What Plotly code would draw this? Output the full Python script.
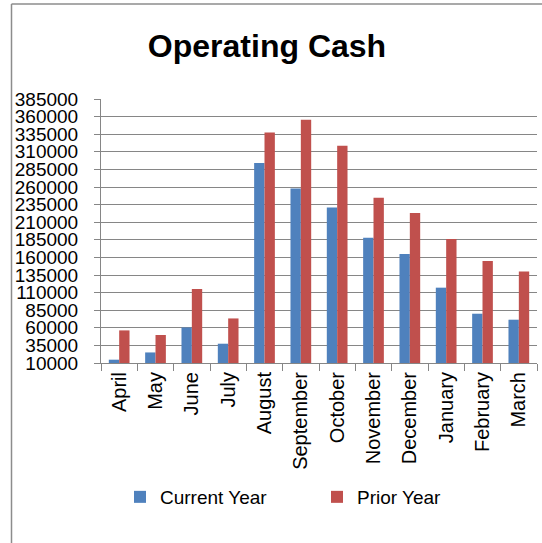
import plotly.graph_objects as go

months = ["April", "May", "June", "July", "August", "September", "October",
          "November", "December", "January", "February", "March"]
current_year = [14700, 25000, 60500, 37400, 294000, 258000, 231000,
                188000, 164800, 117000, 80000, 71500]
prior_year = [56300, 49800, 115100, 73300, 337500, 355500, 318600,
              244700, 223000, 186000, 154800, 140000]
y_ticks = list(range(10000, 385001, 25000))

FONT = "Liberation Sans"
GRID = "#868686"

fig = go.Figure()
fig.add_trace(go.Bar(name="Current Year", x=months, y=current_year,
                     marker=dict(color="#4F81BD", line=dict(width=0))))
fig.add_trace(go.Bar(name="Prior Year", x=months, y=prior_year,
                     marker=dict(color="#C0504D", line=dict(width=0))))

# plot area: x 101..537, y 99..363 (px)
PL, PR, PT, PB = 101, 537, 99, 363
W, H = 542, 543
pw, ph = PR - PL, PB - PT

def px_to_paper_x(px):
    return (px - PL) / pw

def px_to_paper_y(py):
    return (PB - py) / ph

fig.update_layout(
    width=W, height=H,
    margin=dict(l=PL, r=W - PR, t=PT, b=H - PB, pad=0),
    paper_bgcolor="white", plot_bgcolor="white",
    font=dict(family=FONT, size=19, color="black"),
    barmode="group", bargap=0.43, bargroupgap=0,
    title=dict(text="<b>Operating Cash</b>", x=267 / W, xref="container",
               xanchor="center", y=1 - 46 / H, yref="container", yanchor="middle",
               font=dict(family=FONT, size=32, color="black")),
    showlegend=True,
    legend=dict(orientation="h", x=px_to_paper_x(120), xanchor="left",
                y=px_to_paper_y(497), yanchor="middle",
                font=dict(family=FONT, size=19, color="black"),
                entrywidth=152, entrywidthmode="pixels",
                bgcolor="rgba(0,0,0,0)", traceorder="normal"),
    xaxis=dict(type="category", categoryorder="array", categoryarray=months,
               showline=True, linecolor=GRID, linewidth=1,
               ticks="outside", tickson="boundaries", ticklen=7, tickcolor=GRID,
               tickangle=-90, showgrid=False, range=[-0.5, 11.5],
               tickfont=dict(family=FONT, size=20, color="black")),
    yaxis=dict(range=[10000, 385000], tickvals=y_ticks,
               ticktext=[str(v) for v in y_ticks],
               showline=True, linecolor=GRID, linewidth=1,
               ticks="outside", ticklen=6, tickcolor=GRID,
               showgrid=True, gridcolor=GRID, gridwidth=1, zeroline=False,
               ticklabelstandoff=12,
               tickfont=dict(family=FONT, size=19, color="black")),
    shapes=[
        dict(type="line", xref="paper", yref="paper",
             x0=px_to_paper_x(11.5), x1=px_to_paper_x(560),
             y0=px_to_paper_y(4), y1=px_to_paper_y(4),
             line=dict(color="#8c8c8c", width=1.5)),
        dict(type="line", xref="paper", yref="paper",
             x0=px_to_paper_x(11.5), x1=px_to_paper_x(11.5),
             y0=px_to_paper_y(4), y1=px_to_paper_y(560),
             line=dict(color="#8c8c8c", width=1.5)),
    ],
)

fig.write_html("out.html",
               config={"displayModeBar": False},
               post_script="document.body.style.margin='0';"
                           "document.body.style.overflow='hidden';")
